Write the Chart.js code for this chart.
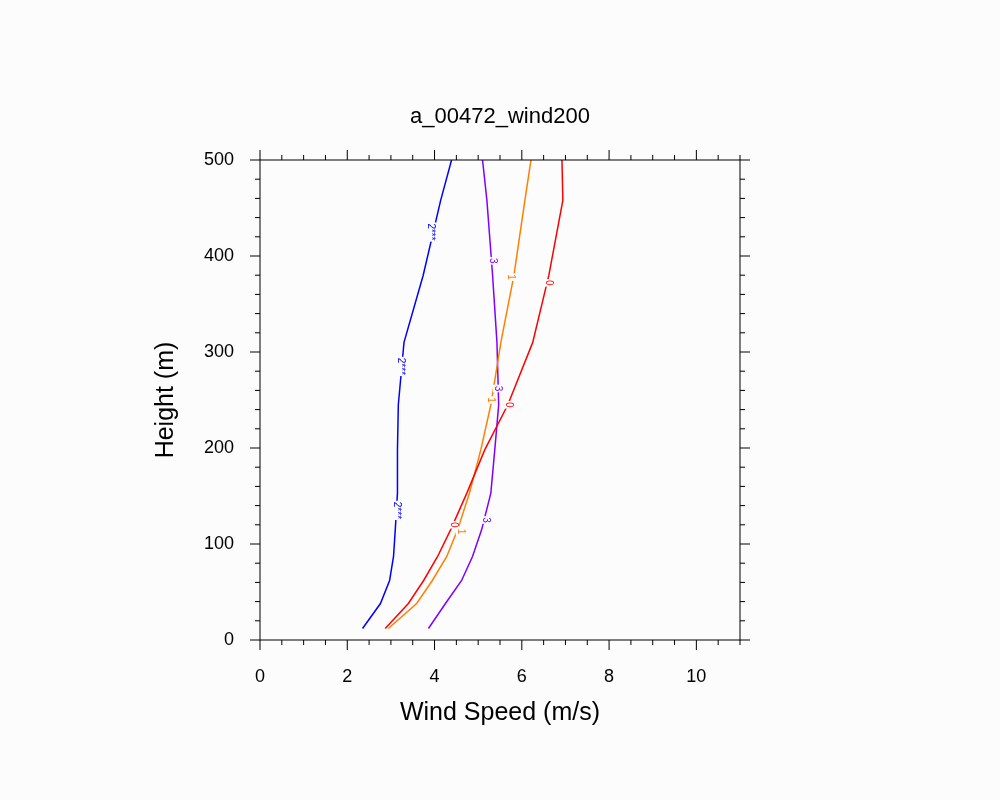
<!DOCTYPE html>
<html><head><meta charset="utf-8">
<script src="https://cdn.jsdelivr.net/npm/chart.js@4"></script>
<style>html,body{margin:0;background:#fcfcfc}#w{width:1000px;height:800px}</style>
</head><body><div id="w"><canvas id="c"></canvas></div>
<script>
const heights = [12, 38, 62, 87, 115, 153, 198, 245, 310, 380, 458, 500];
const s0 = [2.87, 3.40, 3.75, 4.07, 4.37, 4.74, 5.15, 5.68, 6.25, 6.62, 6.94, 6.92];
const s1 = [2.94, 3.59, 3.95, 4.28, 4.53, 4.80, 5.06, 5.29, 5.52, 5.82, 6.07, 6.21];
const s2 = [2.35, 2.76, 2.97, 3.06, 3.10, 3.15, 3.15, 3.17, 3.30, 3.74, 4.14, 4.39];
const s3 = [3.86, 4.25, 4.62, 4.87, 5.08, 5.29, 5.38, 5.47, 5.43, 5.33, 5.20, 5.10];
const names = ["0", "1", "2***", "3"];
const colors = ["#ff0000", "#ff8000", "#0000ff", "#8000ff"];
const labelAt = [[4.37,115],[5.68,245],[6.62,375]];
const labelPts = [
  [[4.45,120],[5.70,245],[6.62,372]],
  [[4.60,113],[5.29,250],[5.75,378]],
  [[3.13,135],[3.22,285],[3.92,425]],
  [[5.18,125],[5.45,262],[5.33,395]]
];
const series = [s0, s1, s2, s3];
const FONT = "'Liberation Sans', Arial, sans-serif";
const datasets = series.map((s, i) => ({
  label: names[i],
  data: s.map((v, k) => ({x: v, y: heights[k]})),
  showLine: true, borderColor: colors[i], borderWidth: 1.5,
  pointRadius: 0, fill: false, tension: 0
}));
const deco = {
  id: 'deco',
  afterDraw(ch) {
    const c = ch.ctx, xs = ch.scales.x, ys = ch.scales.y, a = ch.chartArea;
    c.save();
    c.strokeStyle = '#000'; c.lineWidth = 1;
    c.strokeRect(a.left, a.top, a.right - a.left, a.bottom - a.top);
    c.beginPath();
    for (let v = 0; v <= 11.001; v += 0.5) {
      const p = xs.getPixelForValue(v), L = (Math.abs(v % 2) < 1e-6) ? 10 : 5;
      c.moveTo(p, a.bottom); c.lineTo(p, a.bottom + L);
      c.moveTo(p, a.top); c.lineTo(p, a.top - L);
    }
    for (let v = 0; v <= 500; v += 20) {
      const p = ys.getPixelForValue(v), L = (v % 100 === 0) ? 10 : 5;
      c.moveTo(a.left, p); c.lineTo(a.left - L, p);
      c.moveTo(a.right, p); c.lineTo(a.right + L, p);
    }
    c.stroke();
    // line labels
    c.font = '10px ' + FONT; c.textAlign = 'center'; c.textBaseline = 'middle';
    labelPts.forEach((pts, i) => {
      pts.forEach(([x, y]) => {
        const px = xs.getPixelForValue(x), py = ys.getPixelForValue(y);
        c.save(); c.translate(px, py); c.rotate(Math.PI / 2);
        const w = c.measureText(names[i]).width;
        c.fillStyle = '#fcfcfc'; c.fillRect(-w/2 - 1, -5, w + 2, 10);
        c.fillStyle = colors[i]; c.fillText(names[i], 0, 0);
        c.restore();
      });
    });
    c.fillStyle = '#000';
    c.font = '22px ' + FONT; c.textAlign = 'center'; c.textBaseline = 'middle';
    c.fillText('a_00472_wind200', (a.left + a.right) / 2, 117);
    c.font = '25px ' + FONT;
    c.fillText('Wind Speed (m/s)', (a.left + a.right) / 2, 713);
    c.save(); c.translate(166, (a.top + a.bottom) / 2); c.rotate(-Math.PI / 2);
    c.fillText('Height (m)', 0, 0); c.restore();
    c.restore();
  }
};
new Chart(document.getElementById('c'), {
  type: 'scatter',
  data: { datasets },
  options: {
    responsive: true, maintainAspectRatio: false, animation: false,
    layout: { padding: { top: 160, right: 260, left: 0, bottom: 0 } },
    plugins: { legend: { display: false }, tooltip: { enabled: false } },
    scales: {
      x: { min: 0, max: 11, afterFit: s => { s.height = 160; },
        grid: { display: false, drawTicks: false }, border: { display: false },
        ticks: { stepSize: 2, padding: 26, color: '#000', font: { size: 18, family: FONT },
          callback: v => (v % 2 === 0 ? v : '') } },
      y: { min: 0, max: 500, afterFit: s => { s.width = 260; },
        grid: { display: false, drawTicks: false }, border: { display: false },
        ticks: { stepSize: 100, padding: 26, color: '#000', font: { size: 18, family: FONT } } }
    }
  },
  plugins: [deco]
});
</script></body></html>
